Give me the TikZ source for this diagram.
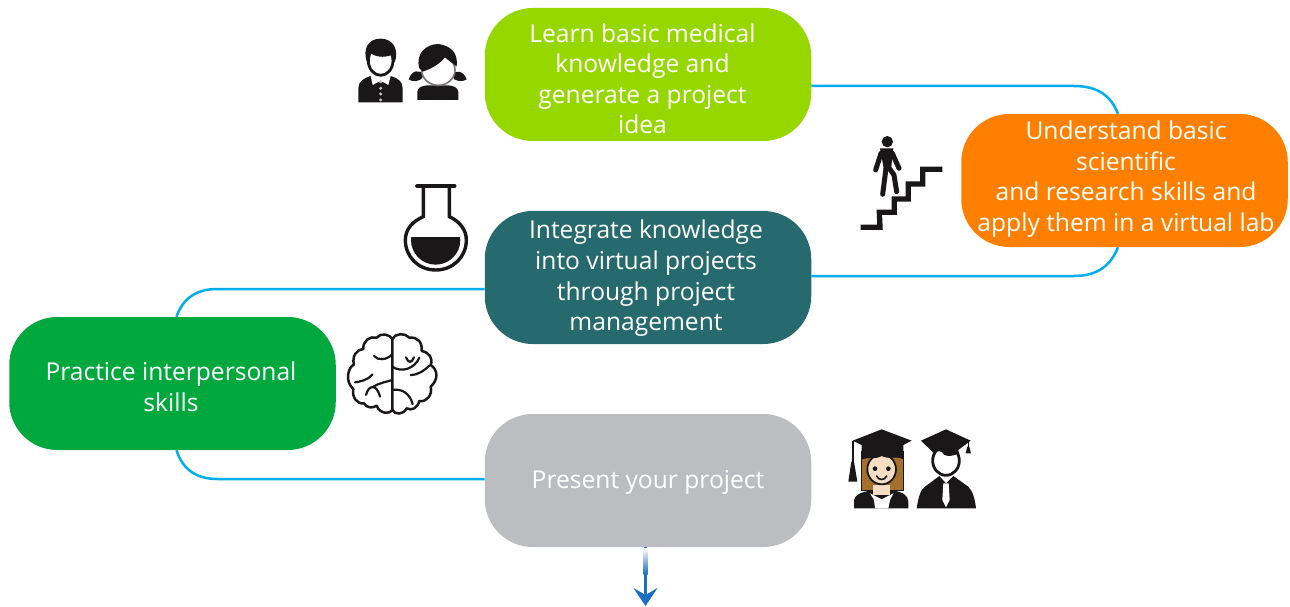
\documentclass[tikz,border=0pt]{standalone}
\usepackage{fontspec}
\setmainfont{Open Sans}
\definecolor{limebox}{HTML}{97D700}
\definecolor{orangebox}{HTML}{FF7F00}
\definecolor{tealbox}{HTML}{266A6E}
\definecolor{greenbox}{HTML}{00A83E}
\definecolor{graybox}{HTML}{BCBDC0}
\definecolor{linkblue}{HTML}{00AEEF}
\definecolor{arrowblue}{HTML}{1B6EC2}
\definecolor{icondark}{HTML}{1A1718}
\definecolor{hairbrown}{HTML}{A5702E}
\definecolor{skintone}{HTML}{F3DDC3}
\usetikzlibrary{arrows.meta}
\tikzset{
  stagebox/.style={rectangle,rounded corners=48pt,minimum width=326.5pt,minimum height=133pt,inner sep=0pt},
  stagetext/.style={text=white,align=center,font=\fontsize{24.6}{30.6}\selectfont,inner sep=0pt},
  link/.style={draw=linkblue,line width=2.5pt},
  zoomed/.style={x=0.3333pt,y=-0.3333pt},
  fold/.style={icondark,line width=2.2pt,line cap=round},
  limb/.style={icondark,line width=5pt,line cap=round,line join=round},
}
\begin{document}
\begin{tikzpicture}[x=1pt,y=-1pt]
    \useasboundingbox (0,0) rectangle (1290,607);

    % Boxes
    \node[stagebox,fill=limebox] (learn) at (648,74.5) {};
    \node[stagebox,fill=orangebox] (understand) at (1124.5,180.5) {};
    \node[stagebox,fill=tealbox] (integrate) at (648,277.5) {};
    \node[stagebox,fill=greenbox] (practice) at (172.5,383.5) {};
    \node[stagebox,fill=graybox] (present) at (648,480.5) {};

    % Labels
    \node[stagetext] (learntext) at ([shift={(-5.5,4.3)}]learn) {Learn basic medical\\knowledge and\\generate a project\\idea};
    \node[stagetext] (understandtext) at ([shift={(1.5,-1.5)}]understand) {Understand basic\\scientific\\and research skills and\\apply them in a virtual lab};
    \node[stagetext] (integratetext) at ([shift={(-2,1)}]integrate) {Integrate knowledge\\into virtual projects\\through project\\management};
    \node[stagetext] (practicetext) at ([shift={(-1.5,3.3)}]practice) {Practice interpersonal\\skills};
    \node[stagetext] (presenttext) at ([shift={(0,2)}]present) {Present your project};

    % Connectors
    \draw[link] ([yshift=-11.5pt]learn.east) -- (1074,86) .. controls (1098,86) and (1111,96) .. ([xshift=-6.5pt]understand.north);
    \draw[link] ([xshift=-6.5pt]understand.south) .. controls (1111,265) and (1098,276) .. (1074,276) -- ([yshift=1.5pt]integrate.east);
    \draw[link] ([yshift=-11.5pt]integrate.west) -- (217,289) .. controls (195,289) and (182,300) .. ([xshift=4pt]practice.north);
    \draw[link] ([xshift=4pt]practice.south) .. controls (182,468) and (195,479) .. (217,479) -- ([yshift=1.5pt]present.west);

    % Arrow out of the last box
    \coordinate (arrowend) at (645.5,606);
    \draw[arrowblue,line width=2.6pt,-{Stealth[length=18pt,width=24pt,inset=7pt]}] ([xshift=-2.5pt]present.south) -- (arrowend);
    \shade[top color=white,bottom color=arrowblue] (643.5,548) rectangle (647.5,574);

    % Pupils
    \begin{scope}[shift={(340,20)},zoomed]
        % boy
        \fill[icondark] (55,247) -- (55,205) .. controls (55,185) and (70,175) .. (92,168) -- (122,190) -- (152,168) .. controls (175,175) and (188,185) .. (188,205) -- (188,247) -- cycle;
        \fill[white] (92,168) -- (122,178) -- (152,168) -- (145,195) -- (122,182) -- (98,195) -- cycle;
        \draw[icondark,line width=2.8pt,fill=white] (122,122) ellipse (37 and 44);
        \fill[icondark] (80,125) .. controls (68,85) and (85,56) .. (122,56) .. controls (160,56) and (178,90) .. (164,128) -- (155,105) .. controls (130,115) and (105,110) .. (88,98) -- cycle;
        \foreach \yb in {185,205,222,240} \fill[white!75!black] (122,\yb) circle (5);
        % girl
        \fill[icondark] (206,178) .. controls (215,150) and (240,147) .. (252,165) -- (243,178) .. controls (230,185) and (215,185) .. (206,178) -- cycle;
        \fill[icondark] (380,178) .. controls (370,150) and (345,150) .. (335,165) -- (343,178) .. controls (355,185) and (370,185) .. (380,178) -- cycle;
        \fill[icondark] (232,240) -- (232,215) .. controls (235,193) and (270,195) .. (290,197) .. controls (320,195) and (350,193) .. (355,215) -- (355,240) -- cycle;
        \draw[icondark!60,line width=1.6pt,fill=white] (295,150) ellipse (50 and 46);
        \fill[icondark] (238,145) .. controls (225,100) and (260,72) .. (295,72) .. controls (335,78) and (355,100) .. (350,140) .. controls (340,130) and (325,122) .. (315,112) .. controls (300,132) and (270,148) .. (248,155) -- cycle;
    \end{scope}

    % Stairs and walker
    \begin{scope}[shift={(850,125)},zoomed]
        \draw[icondark,line width=5.3pt,line join=miter] (32,307) -- (90,307) -- (88,262) -- (133,262) -- (133,222) -- (175,222) -- (175,177) -- (218,177) -- (218,133) -- (277,133);
        \fill[icondark] (112,50) circle (17);
        \fill[icondark] (90,70) -- (130,70) -- (123,135) -- (102,135) -- cycle;
        \draw[limb] (93,85) -- (77,135);
        \draw[limb] (127,85) -- (147,130);
        \draw[limb] (108,130) -- (98,208);
        \draw[limb] (118,130) -- (132,150) -- (140,200);
    \end{scope}

    % Flask
    \begin{scope}[shift={(390,175)},zoomed]
        \draw[icondark,line width=4.5pt,line cap=round] (82,33) -- (193,33);
        \draw[icondark,line width=3.4pt] (100,33) -- (100,125) .. controls (65,140) and (46,165) .. (46,195) .. controls (46,245) and (85,285) .. (137,285) .. controls (190,285) and (229,245) .. (229,195) .. controls (229,165) and (210,140) .. (178,125) -- (178,33);
        \begin{scope}
            \clip (55,187) rectangle (220,280);
            \fill[icondark] (137,195) circle (74);
        \end{scope}
    \end{scope}

    % Brain
    \begin{scope}[shift={(340,325)},zoomed]
        \draw[icondark,line width=2.5pt,line join=round] (157,42) .. controls (150,28) and (122,22) .. (110,38) .. controls (90,32) and (68,48) .. (70,72) .. controls (50,72) and (35,95) .. (42,118) .. controls (22,130) and (15,170) .. (40,192) .. controls (35,215) and (50,238) .. (72,235) .. controls (80,250) and (100,250) .. (110,242) .. controls (120,268) and (150,268) .. (157,255) -- cycle;
        \draw[icondark,line width=2.5pt,line join=round] (157,42) .. controls (165,25) and (195,22) .. (208,38) .. controls (232,35) and (248,52) .. (245,78) .. controls (268,82) and (280,100) .. (272,120) .. controls (295,135) and (295,165) .. (272,185) .. controls (278,210) and (260,232) .. (238,228) .. controls (232,250) and (215,258) .. (200,250) .. controls (190,270) and (165,270) .. (157,255);
        \draw[fold] (102,93) .. controls (115,108) and (140,105) .. (157,88);
        \draw[fold] (157,125) .. controls (185,145) and (225,130) .. (238,98);
        \draw[fold] (198,97) .. controls (205,115) and (215,115) .. (222,97);
        \draw[fold] (212,150) .. controls (235,150) and (255,135) .. (268,122);
        \draw[fold] (45,172) .. controls (60,170) and (85,165) .. (98,148);
        \draw[fold] (78,210) .. controls (85,180) and (110,175) .. (120,215);
        \draw[fold] (100,185) .. controls (115,175) and (140,170) .. (157,165);
        \draw[fold] (157,195) .. controls (185,190) and (210,205) .. (218,238);
    \end{scope}

    % Graduates
    \begin{scope}[shift={(840,420)},zoomed]
        % woman
        \draw[icondark,line width=1.5pt,fill=hairbrown] (65,95) rectangle (190,212);
        \fill[icondark] (42,265) -- (42,240) .. controls (45,222) and (70,215) .. (90,212) -- (160,212) .. controls (185,215) and (205,225) .. (205,245) -- (205,265) -- cycle;
        \fill[skintone] (100,195) rectangle (150,225);
        \fill[white] (90,220) -- (125,238) -- (160,220) -- (150,240) -- (145,265) -- (105,265) -- (102,240) -- cycle;
        \draw[icondark,line width=1.8pt,fill=skintone] (125,148) ellipse (43 and 45);
        \fill[icondark] (65,118) -- (65,75) -- (38,62) -- (125,28) -- (215,62) -- (190,75) -- (190,118) .. controls (165,105) and (150,120) .. (125,108) .. controls (105,120) and (85,110) .. (65,118) -- cycle;
        \draw[icondark,line width=2pt] (38,62) -- (38,140);
        \fill[icondark] (34,125) -- (42,125) -- (52,185) -- (25,185) -- cycle;
        \fill[icondark] (105,146) circle (7);
        \fill[icondark] (145,146) circle (7);
        \draw[icondark,line width=1.6pt,line cap=round] (110,168) .. controls (115,182) and (135,182) .. (140,168);
        % man
        \fill[icondark] (230,265) .. controls (235,235) and (240,210) .. (255,200) -- (298,168) -- (318,190) -- (340,168) -- (385,200) .. controls (400,215) and (405,240) .. (408,265) -- cycle;
        \fill[white] (310,190) -- (326,190) -- (329,240) -- (318,262) -- (307,240) -- cycle;
        \draw[icondark,line width=2.8pt,fill=white] (318,122) ellipse (40 and 44);
        \fill[icondark] (280,98) -- (243,62) -- (318,28) -- (392,62) -- (355,90) -- (357,100) .. controls (340,108) and (325,110) .. (313,105) .. controls (305,90) and (293,92) .. (280,98) -- cycle;
        \draw[icondark,line width=1.6pt] (385,62) -- (385,90);
        \fill[icondark] (382,80) -- (388,80) -- (393,100) -- (377,100) -- cycle;
    \end{scope}
\end{tikzpicture}
\end{document}
